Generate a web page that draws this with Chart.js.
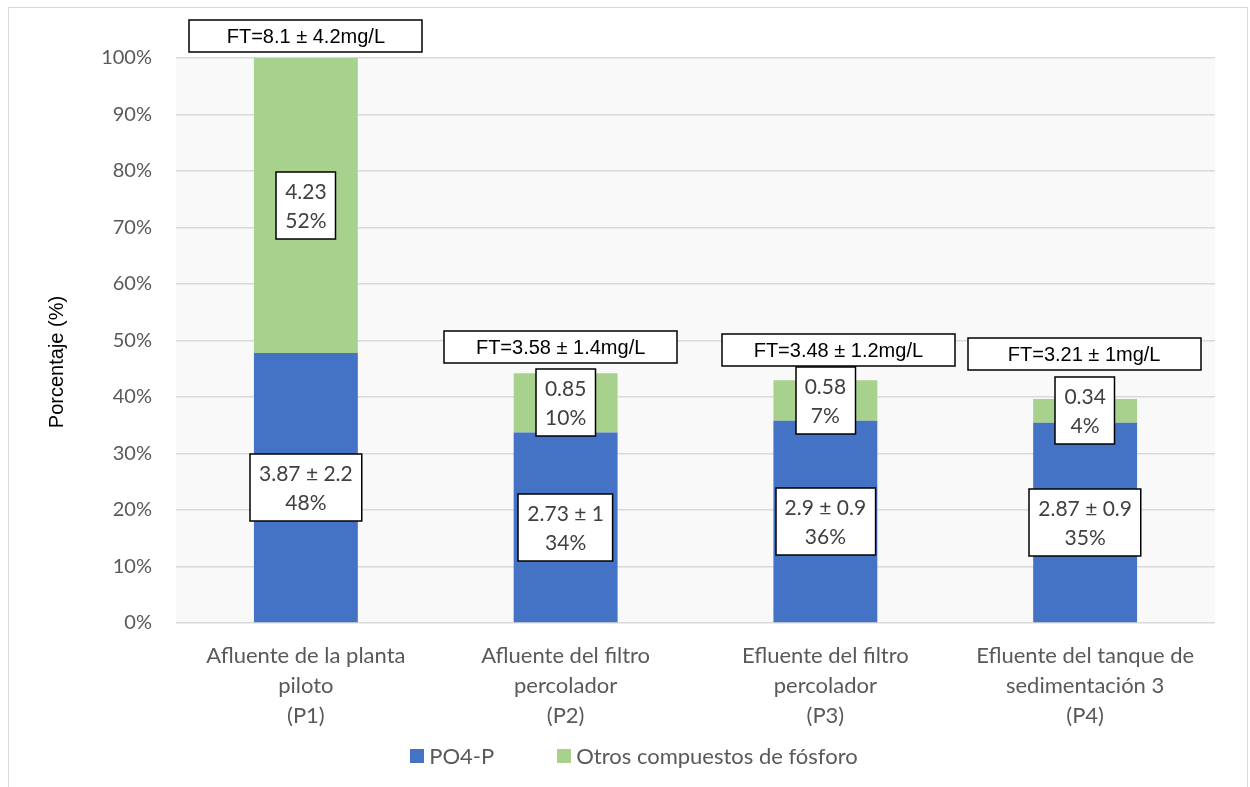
<!DOCTYPE html>
<html>
<head>
<meta charset="utf-8">
<title>Fósforo total por punto de muestreo</title>
<script src="https://cdn.jsdelivr.net/npm/chart.js@4.4.1/dist/chart.umd.min.js"></script>
<style>
  html, body { margin: 0; padding: 0; background: #ffffff; }
  #frame { position: absolute; left: 8px; top: 7px; width: 1240px; height: 800px;
           border: 1px solid #d9d9d9; box-sizing: border-box; }
  #wrap { position: absolute; left: 0; top: 0; width: 1250px; height: 787px; }
</style>
</head>
<body>
<div id="frame"></div>
<div id="wrap"><canvas id="chart" width="1250" height="787"></canvas></div>
<script>
// Sampling points (multi-line category labels)
const categories = [
  ['Afluente de la planta', 'piloto', '(P1)'],
  ['Afluente del filtro', 'percolador', '(P2)'],
  ['Efluente del filtro', 'percolador', '(P3)'],
  ['Efluente del tanque de', 'sedimentación 3', '(P4)']
];
const seriesNames = ['PO4-P', 'Otros compuestos de fósforo'];
const axisTitle = 'Porcentaje (%)';

// Concentrations in mg/L
const po4Mean   = [3.87, 2.73, 2.9, 2.87];
const po4Sd     = [2.2, 1, 0.9, 0.9];
const otrosMean = [4.23, 0.85, 0.58, 0.34];
const ftMean    = [8.1, 3.58, 3.48, 3.21];
const ftSd      = [4.2, 1.4, 1.2, 1];

// Percentage axis ticks
const yTicks = [0, 10, 20, 30, 40, 50, 60, 70, 80, 90, 100];

// Percentages are expressed relative to total phosphorus at the plant inlet (P1)
const reference = ftMean[0];
const po4Pct   = po4Mean.map(v => v / reference * 100);
const otrosPct = otrosMean.map(v => v / reference * 100);

// Small nudges for the FT boxes above each bar (pixels)
const ftShiftX = [0, -5, 13, -1];
const ftShiftY = [-22, -26, -30, -45];

const COLORS = { po4: '#4472C4', otros: '#A9D18E', grid: '#d9d9d9', tick: '#595959', label: '#404040' };
const LABEL_FONT = '21px Lato, "Open Sans", sans-serif';
const LEGEND_FONT = '22px Lato, "Open Sans", sans-serif';
const FT_FONT = '20px "Liberation Sans", Arial, sans-serif';

function boxedText(ctx, lines, cx, cy, font, color, fixedWidth, lineH, padX, padY) {
  ctx.font = font;
  const w = fixedWidth || Math.max(...lines.map(t => ctx.measureText(t).width)) + padX * 2;
  const h = lines.length * lineH + padY * 2;
  const x = Math.round(cx - w / 2), y = Math.round(cy - h / 2);
  ctx.fillStyle = '#ffffff';
  ctx.fillRect(x, y, w, h);
  ctx.strokeStyle = '#000000';
  ctx.lineWidth = 1.5;
  ctx.strokeRect(x, y, w, h);
  ctx.fillStyle = color;
  ctx.textAlign = 'center';
  ctx.textBaseline = 'middle';
  lines.forEach((t, k) => ctx.fillText(t, cx, y + padY + lineH * (k + 0.5) + 1));
}

const decorations = {
  id: 'decorations',
  beforeDraw(chart) {
    const { ctx, chartArea: a } = chart;
    ctx.save();
    ctx.fillStyle = '#f9f9f9';
    ctx.fillRect(a.left, a.top, a.right - a.left, a.bottom - a.top);
    // Vertical axis title
    ctx.translate(57, 362);
    ctx.rotate(-Math.PI / 2);
    ctx.font = '20px "Liberation Sans", Arial, sans-serif';
    ctx.fillStyle = '#000000';
    ctx.textAlign = 'center';
    ctx.textBaseline = 'middle';
    ctx.fillText(axisTitle, 0, 0);
    ctx.restore();
  },
  afterDatasetsDraw(chart) {
    const ctx = chart.ctx;
    ctx.save();
    const m0 = chart.getDatasetMeta(0), m1 = chart.getDatasetMeta(1);
    categories.forEach((_, i) => {
      const b = m0.data[i], g = m1.data[i];
      boxedText(ctx, [po4Mean[i] + ' ± ' + po4Sd[i], Math.round(po4Pct[i]) + '%'],
        b.x, (b.y + b.base) / 2, LABEL_FONT, COLORS.label, 0, 29.5, 9, 4);
      boxedText(ctx, [String(otrosMean[i]), Math.round(otrosPct[i]) + '%'],
        g.x, (g.y + g.base) / 2, LABEL_FONT, COLORS.label, 0, 29.5, 9, 4);
      boxedText(ctx, ['FT=' + ftMean[i] + ' ± ' + ftSd[i] + 'mg/L'],
        g.x + ftShiftX[i], g.y + ftShiftY[i], FT_FONT, '#000000', 233, 26, 0, 3);
    });
    ctx.restore();
  },
  afterDraw(chart) {
    // Legend centred under the plot
    const ctx = chart.ctx;
    ctx.save();
    ctx.font = LEGEND_FONT;
    const sq = 14, gap = 5, spacing = 63;
    const colors = [COLORS.po4, COLORS.otros];
    const widths = seriesNames.map(n => sq + gap + ctx.measureText(n).width);
    const total = widths[0] + spacing + widths[1];
    let x = 634 - total / 2;
    const cy = 756;
    ctx.textBaseline = 'middle';
    ctx.textAlign = 'left';
    seriesNames.forEach((n, k) => {
      ctx.fillStyle = colors[k];
      ctx.fillRect(Math.round(x), cy - sq / 2, sq, sq);
      ctx.fillStyle = COLORS.tick;
      ctx.fillText(n, x + sq + gap, cy + 1);
      x += widths[k] + spacing;
    });
    ctx.restore();
  }
};

new Chart(document.getElementById('chart'), {
  type: 'bar',
  data: {
    labels: categories,
    datasets: [
      { label: seriesNames[0], data: po4Pct, backgroundColor: COLORS.po4 },
      { label: seriesNames[1], data: otrosPct, backgroundColor: COLORS.otros }
    ]
  },
  options: {
    responsive: false,
    animation: false,
    layout: { padding: { top: 58, right: 35, bottom: 0, left: 0 } },
    datasets: { bar: { categoryPercentage: 1, barPercentage: 0.4, borderWidth: 0 } },
    plugins: { legend: { display: false }, tooltip: { enabled: false } },
    scales: {
      x: {
        stacked: true,
        grid: { display: false },
        border: { display: false },
        ticks: { color: COLORS.tick, font: { family: 'Lato', size: 22, lineHeight: 1.37 }, padding: 10, maxRotation: 0, autoSkip: false },
        afterFit(scale) { scale.height = 164; }
      },
      y: {
        stacked: true,
        min: 0,
        max: 100,
        afterBuildTicks(scale) { scale.ticks = yTicks.map(v => ({ value: v })); },
        grid: { color: COLORS.grid, lineWidth: 1.5, drawTicks: false },
        border: { display: false },
        ticks: { color: COLORS.tick, font: { family: 'Lato', size: 20 }, padding: 24, callback: v => v + '%' },
        afterFit(scale) { scale.width = 176; }
      }
    }
  },
  plugins: [decorations]
});
</script>
</body>
</html>
